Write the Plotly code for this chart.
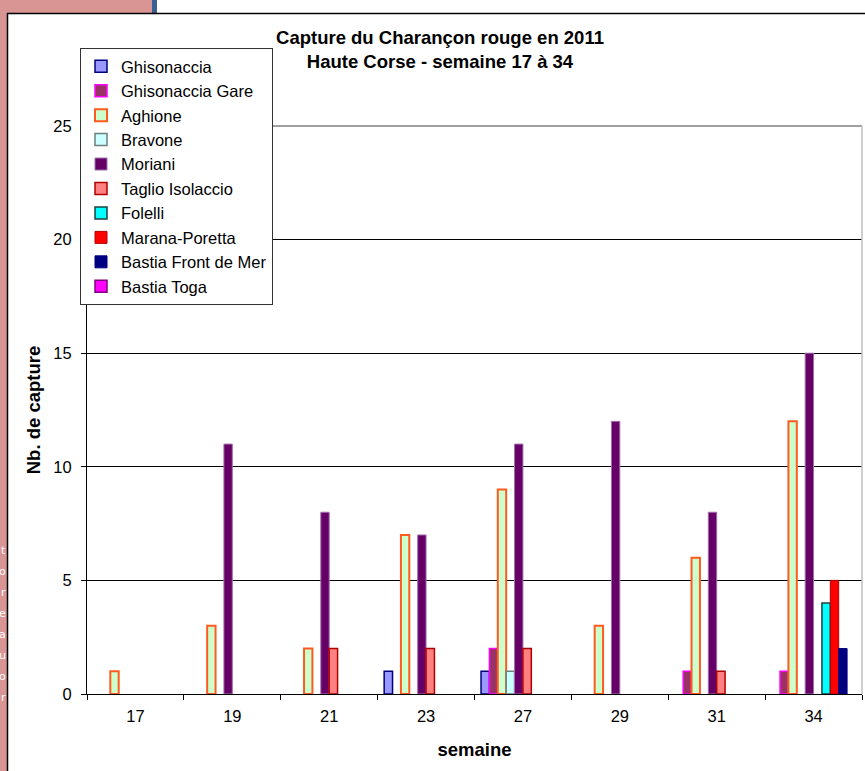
import plotly.graph_objects as go

weeks = ["17", "19", "21", "23", "27", "29", "31", "34"]
series_names = [
    "Ghisonaccia", "Ghisonaccia Gare", "Aghione", "Bravone", "Moriani",
    "Taglio Isolaccio", "Folelli", "Marana-Poretta", "Bastia Front de Mer", "Bastia Toga",
]
ghisonaccia = [0, 0, 0, 1, 1, 0, 0, 0]
ghisonaccia_gare = [0, 0, 0, 0, 2, 0, 1, 1]
aghione = [1, 3, 2, 7, 9, 3, 6, 12]
bravone = [0, 0, 0, 0, 1, 0, 0, 0]
moriani = [0, 11, 8, 7, 11, 12, 8, 15]
taglio = [0, 0, 2, 2, 2, 0, 1, 0]
folelli = [0, 0, 0, 0, 0, 0, 0, 4]
marana = [0, 0, 0, 0, 0, 0, 0, 5]
bastia_front = [0, 0, 0, 0, 0, 0, 0, 2]
bastia_toga = [0, 0, 0, 0, 0, 0, 0, 0]
values = [ghisonaccia, ghisonaccia_gare, aghione, bravone, moriani,
          taglio, folelli, marana, bastia_front, bastia_toga]

fills = ["#9999FF", "#993366", "#CCFFCC", "#CCFFFF", "#660066",
         "#FF8080", "#00FFFF", "#FF0000", "#000080", "#FF00FF"]
lines = ["#000080", "#FF00FF", "#FF5A1F", "#6E7F7F", "#A070B0",
         "#B00000", "#1F3F3F", "#B00000", "#000080", "#800080"]
line_w = [1.5, 1.5, 2, 1.5, 1, 1.5, 1.5, 1, 1, 1.5]

FONT = "Arial, Liberation Sans, sans-serif"
REG = 16.5
BOLD = 18.5

fig = go.Figure()
for name, vals, fc, lc, lw in zip(series_names, values, fills, lines, line_w):
    fig.add_trace(go.Bar(
        name=name, x=weeks, y=[v if v else None for v in vals],
        marker=dict(color=fc, line=dict(color=lc, width=lw)),
    ))

W, H = 865, 771
L, R, T, B = 87, 3, 126, 77
pw, ph = W - L - R, H - T - B


def px(x):
    return (x - L) / pw


def py(y):
    return (H - B - y) / ph


shapes = [
    dict(type="rect", xref="paper", yref="paper", x0=px(-5), x1=px(7), y0=py(780), y1=py(-5),
         fillcolor="#D99594", line=dict(width=0), layer="below"),
    dict(type="rect", xref="paper", yref="paper", x0=px(-5), x1=px(152), y0=py(13), y1=py(-5),
         fillcolor="#D99594", line=dict(width=0), layer="below"),
    dict(type="rect", xref="paper", yref="paper", x0=px(152), x1=px(157), y0=py(13), y1=py(-5),
         fillcolor="#3A5F94", line=dict(width=0), layer="below"),
    dict(type="line", xref="paper", yref="paper", x0=px(7), x1=px(870), y0=py(13.5), y1=py(13.5),
         line=dict(color="black", width=1.5)),
    dict(type="line", xref="paper", yref="paper", x0=px(7.5), x1=px(7.5), y0=py(13), y1=py(780),
         line=dict(color="black", width=1.5)),
    dict(type="line", xref="paper", yref="paper", x0=0, x1=1, y0=1, y1=1,
         line=dict(color="#808080", width=1.5)),
    dict(type="line", xref="paper", yref="paper", x0=1, x1=1, y0=0, y1=1,
         line=dict(color="#C0C0C0", width=1.5)),
]

frag_text = ["t", "o", "r", "e", "a", "u", "o", "r"]
frag_y = [550, 571, 592, 613, 634, 655, 676, 697]
annotations = [
    dict(text=t, xref="paper", yref="paper", x=px(6.5), y=py(yy), xanchor="right", yanchor="middle",
         showarrow=False, font=dict(family="DejaVu Sans", size=11, color="white"),
         borderpad=0)
    for t, yy in zip(frag_text, frag_y)
]

fig.update_layout(
    width=W, height=H,
    margin=dict(l=L, r=R, t=T, b=B),
    paper_bgcolor="white", plot_bgcolor="white",
    font=dict(family=FONT, size=REG, color="black"),
    barmode="group", bargap=0.135, bargroupgap=0,
    title=dict(
        text="<b>Capture du Charançon rouge en 2011<br>Haute Corse - semaine 17 à 34</b>",
        x=440 / W, xanchor="center", y=1 - 44 / H, yanchor="top",
        font=dict(family=FONT, size=BOLD),
    ),
    xaxis=dict(
        type="category", showline=True, linecolor="black", linewidth=1,
        ticks="outside", ticklen=5, tickcolor="black", tickson="boundaries",
        showgrid=False, tickfont=dict(size=REG), ticklabelstandoff=7,
        title=dict(text="<b>semaine</b>", font=dict(size=BOLD), standoff=19),
    ),
    yaxis=dict(
        range=[0, 25], dtick=5, showline=True, linecolor="black", linewidth=1,
        ticks="outside", ticklen=5, tickcolor="black",
        showgrid=True, gridcolor="black", gridwidth=1, zeroline=False,
        tickfont=dict(size=REG), ticklabelstandoff=6,
        title=dict(text="<b>Nb. de capture</b>", font=dict(size=BOLD), standoff=7),
    ),
    legend=dict(
        x=px(80), y=py(48), xanchor="left", yanchor="top",
        bgcolor="white", bordercolor="#333333", borderwidth=1,
        font=dict(family=FONT, size=REG), traceorder="normal",
        tracegroupgap=0,
    ),
    shapes=shapes,
    annotations=annotations,
    showlegend=True,
)

fig.write_html(
    "out.html",
    config={"displayModeBar": False},
    post_script="document.body.style.margin='0';document.body.style.padding='0';",
)
